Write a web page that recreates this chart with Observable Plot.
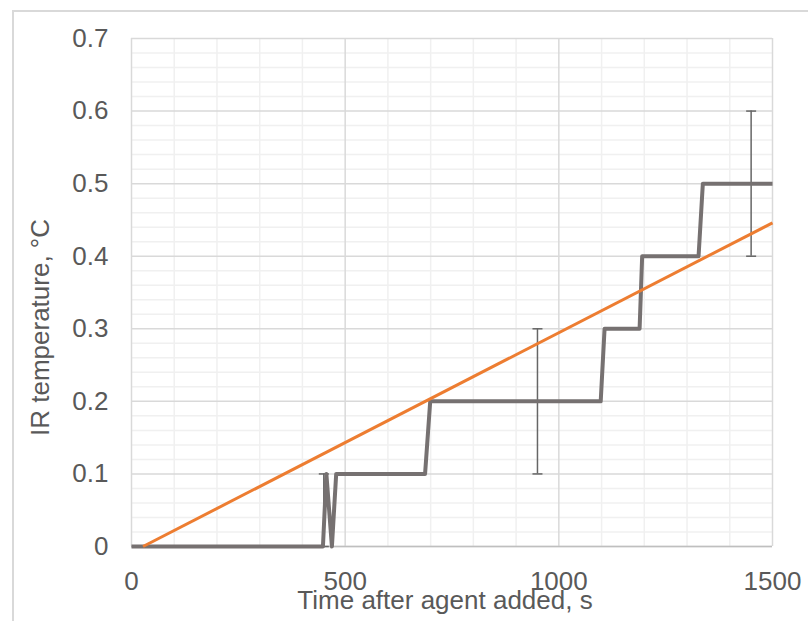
<!DOCTYPE html>
<html><head><meta charset="utf-8">
<script src="https://cdn.jsdelivr.net/npm/d3@7"></script>
<script src="https://cdn.jsdelivr.net/npm/@observablehq/plot@0.6"></script>
<style>
html,body{margin:0;padding:0;background:#fff;}
#wrap{position:relative;width:808px;height:621px;overflow:hidden;}
#border{position:absolute;left:12px;top:10px;width:900px;height:900px;border-left:2px solid #d9d9d9;border-top:2px solid #d9d9d9;box-sizing:border-box;pointer-events:none}
#wrap svg{position:absolute;left:0;top:0}
</style></head><body><div id="wrap"><div id="border"></div></div>
<script>
// Step series (gray)
const grayX = [0, 448, 456, 469, 479, 687, 699, 1098, 1107, 1189, 1195, 1327, 1337, 1500];
const grayY = [0, 0, 0.1, 0, 0.1, 0.1, 0.2, 0.2, 0.3, 0.3, 0.4, 0.4, 0.5, 0.5];
// Trend line (orange)
const orangeX = [27, 1500];
const orangeY = [0, 0.446];
// Error bars
const errX = [450, 950, 1450];
const errLow = [0, 0.1, 0.4];
const errHigh = [0.1, 0.3, 0.6];
// Ticks / gridlines
const xTicks = [0, 500, 1000, 1500];
const xMinor = [100, 200, 300, 400, 600, 700, 800, 900, 1100, 1200, 1300, 1400];
const yTicks = [0, 0.1, 0.2, 0.3, 0.4, 0.5, 0.6, 0.7];
const yMinor = [0.02, 0.04, 0.06, 0.08, 0.12, 0.14, 0.16, 0.18, 0.22, 0.24, 0.26, 0.28,
  0.32, 0.34, 0.36, 0.38, 0.42, 0.44, 0.46, 0.48, 0.52, 0.54, 0.56, 0.58, 0.62, 0.64, 0.66, 0.68];
const xTitle = "Time after agent added, s";
const yTitle = "IR temperature, °C";

const grayData = grayX.map((x, i) => ({x, y: grayY[i]}));
const orangeData = orangeX.map((x, i) => ({x, y: orangeY[i]}));
const errData = errX.map((x, i) => ({x, lo: errLow[i], hi: errHigh[i]}));

const capSymbol = {draw(ctx) { ctx.moveTo(-5, 0); ctx.lineTo(5, 0); }};

const chart = Plot.plot({
  width: 808, height: 621,
  marginLeft: 131, marginRight: 36, marginTop: 38, marginBottom: 75,
  style: {fontFamily: "'Liberation Sans', Arial, sans-serif", background: "transparent", color: "#595959", overflow: "visible"},
  x: {domain: [0, 1500]},
  y: {domain: [0, 0.7]},
  marks: [
    Plot.ruleX(xMinor, {stroke: "#f0f0f0", strokeWidth: 1.5}),
    Plot.ruleY(yMinor, {stroke: "#f0f0f0", strokeWidth: 1.5}),
    Plot.ruleX(xTicks, {stroke: "#d9d9d9", strokeWidth: 1.5}),
    Plot.ruleY(yTicks, {stroke: "#d9d9d9", strokeWidth: 1.5}),
    Plot.ruleY([0], {stroke: "#bfbfbf", strokeWidth: 1.5}),
    Plot.axisX(xTicks, {tickSize: 0, tickPadding: 25, fontSize: 26, fill: "#595959", tickFormat: d => String(d), label: null}),
    Plot.axisY(yTicks, {tickSize: 0, tickPadding: 23, fontSize: 26, fill: "#595959", tickFormat: d => d === 0 ? "0" : d.toFixed(1), label: null}),
    Plot.ruleX(errData, {x: "x", y1: "lo", y2: "hi", stroke: "#666666", strokeWidth: 1.5}),
    Plot.dot(errData, {x: "x", y: "hi", symbol: capSymbol, stroke: "#666666", strokeWidth: 1.5, fill: "none"}),
    Plot.dot(errData, {x: "x", y: "lo", symbol: capSymbol, stroke: "#666666", strokeWidth: 1.5, fill: "none"}),
    Plot.line(grayData, {x: "x", y: "y", stroke: "#767171", strokeWidth: 4, strokeLinejoin: "round", strokeLinecap: "butt"}),
    Plot.line(orangeData, {x: "x", y: "y", stroke: "#ED7D31", strokeWidth: 3, strokeLinecap: "butt"}),
    Plot.text([xTitle], {frameAnchor: "bottom", text: d => d, dx: -7, dy: 44, lineAnchor: "top", textAnchor: "middle", fontSize: 26, fill: "#595959"}),
    Plot.text([yTitle], {frameAnchor: "left", text: d => d, rotate: -90, dx: -91, dy: 35, textAnchor: "middle", fontSize: 26, fill: "#595959"})
  ]
});
document.getElementById("wrap").appendChild(chart);
</script></body></html>
